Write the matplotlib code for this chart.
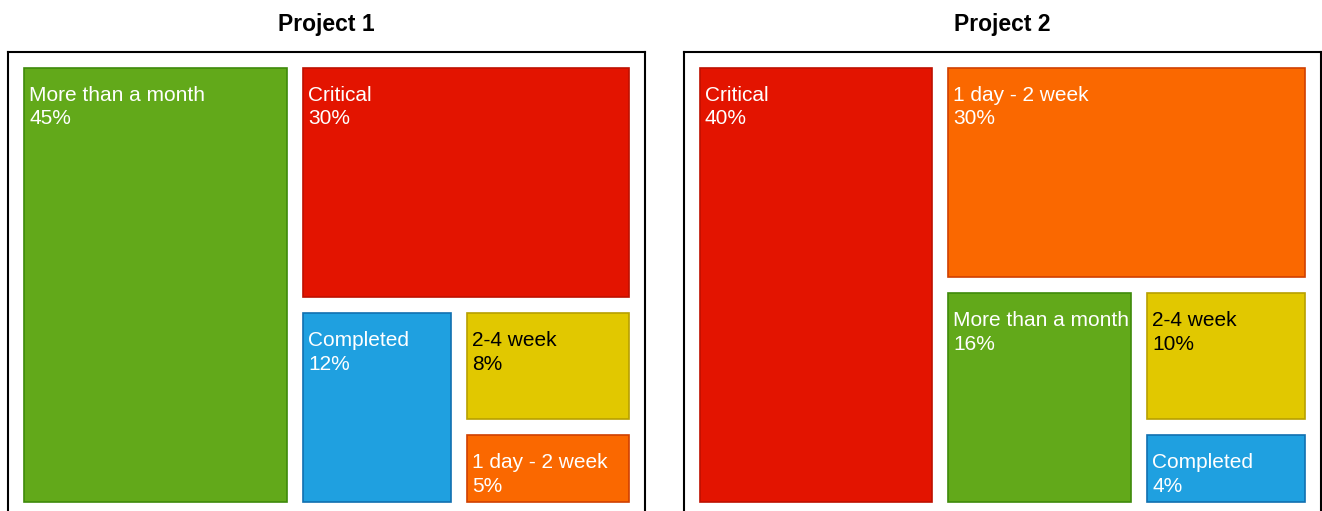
import matplotlib.pyplot as plt
from matplotlib.patches import Rectangle

plt.rcParams['font.family'] = ['Liberation Sans', 'DejaVu Sans']

projects = ["Project 1", "Project 2"]

p1_labels = ["More than a month", "Critical", "Completed", "2-4 week", "1 day - 2 week"]
p1_values = [45, 30, 12, 8, 5]

p2_labels = ["Critical", "1 day - 2 week", "More than a month", "2-4 week", "Completed"]
p2_values = [40, 30, 16, 10, 4]

colors = {
    "More than a month": ("#62A91A", "#3E8A0A", "white"),
    "Critical": ("#E31400", "#BE1000", "white"),
    "Completed": ("#1FA0E0", "#1070B0", "white"),
    "2-4 week": ("#E1C800", "#B8A000", "black"),
    "1 day - 2 week": ("#FA6800", "#D04000", "white"),
}


def slice_layout(values, x, y, w, h, min_size=83):
    # cut each item off along the longer side of what is left,
    # leaving room for the label of the last tile
    rects = []
    remaining = float(sum(values))
    n = len(values)
    for k, v in enumerate(values):
        frac = v / remaining
        last = k == n - 1
        if w >= h:
            rw = w * frac
            if not last:
                rw = min(rw, w - min_size)
            rects.append((x, y, rw, h))
            x += rw
            w -= rw
        else:
            rh = h * frac
            if not last:
                rh = min(rh, h - min_size)
            rects.append((x, y, w, rh))
            y += rh
            h -= rh
        remaining -= v
    return rects


fig = plt.figure(figsize=(13.22, 5.11), dpi=100)

panel_w, panel_h = 637, 466
pad = 8

for i, (title, labels, values) in enumerate(
        [(projects[0], p1_labels, p1_values), (projects[1], p2_labels, p2_values)]):
    left = (8 + i * 676) / 1322
    ax = fig.add_axes([left, -7 / 511, panel_w / 1322, panel_h / 511])
    ax.set_xlim(0, panel_w)
    ax.set_ylim(panel_h, 0)
    ax.set_xticks([])
    ax.set_yticks([])
    for s in ax.spines.values():
        s.set_linewidth(1.5)
        s.set_color("black")

    rects = slice_layout(values, pad, pad, panel_w - 2 * pad, panel_h - 2 * pad)
    for (rx, ry, rw, rh), lab, val in zip(rects, labels, values):
        face, edge, tc = colors[lab]
        ax.add_patch(Rectangle((rx + pad, ry + pad), rw - 2 * pad, rh - 2 * pad,
                               facecolor=face, edgecolor=edge, linewidth=1.2))
        ax.text(rx + pad + 5, ry + pad + 18, f"{lab}\n{val}%", color=tc,
                fontsize=15, va="top", ha="left", linespacing=1.3)

    ax.set_title(title, fontsize=16.5, fontweight="bold", pad=15)

fig.savefig("out.png", dpi=100)
